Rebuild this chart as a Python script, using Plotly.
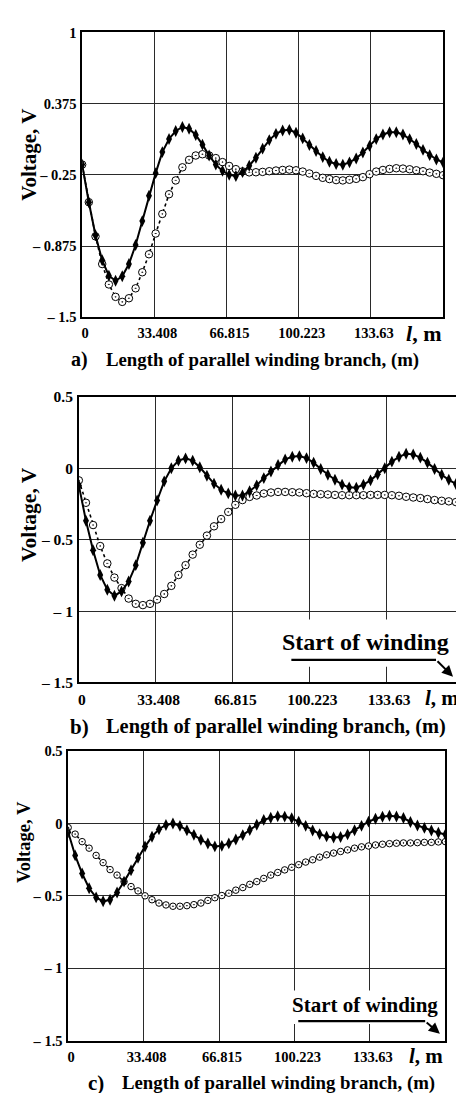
import plotly.graph_objects as go

W, H = 464, 1093
L_TOTAL = 167.04
N_PTS = 55
x_m = [round(i * L_TOTAL / (N_PTS - 1), 3) for i in range(N_PTS)]

x_tick_vals = [0, 33.408, 66.815, 100.223, 133.63]
x_tick_text = ["0", "33.408", "66.815", "100.223", "133.63"]

ya_vals = [1, 0.375, -0.25, -0.875, -1.5]
ya_text = ["1", "0.375", "\u2013 0.25", "\u2013 0.875", "\u2013 1.5"]
ybc_vals = [0.5, 0, -0.5, -1, -1.5]
ybc_text = ["0.5", "0", "\u2013 0.5", "\u2013 1", "\u2013 1.5"]

# panel a
a_solid = [-0.16, -0.49, -0.78, -1.00, -1.135, -1.18, -1.14, -1.033, -0.866, -0.656,
           -0.434, -0.235, -0.05, 0.065, 0.135, 0.17, 0.155, 0.10, 0.015, -0.08,
           -0.16, -0.215, -0.25, -0.26, -0.226, -0.17, -0.10, -0.02, 0.055, 0.11,
           0.14, 0.145, 0.12, 0.07, 0.012, -0.04, -0.094, -0.135, -0.155, -0.161,
           -0.14, -0.106, -0.054, 0.004, 0.064, 0.104, 0.124, 0.124, 0.104, 0.064,
           0.021, -0.031, -0.077, -0.115, -0.14]
a_circ = [-0.16, -0.49, -0.79, -1.033, -1.212, -1.321, -1.365, -1.333, -1.246, -1.105,
          -0.947, -0.765, -0.593, -0.42, -0.299, -0.184, -0.118, -0.08, -0.069, -0.08,
          -0.103, -0.138, -0.172, -0.200, -0.22, -0.228, -0.227, -0.224, -0.218, -0.212,
          -0.207, -0.204, -0.21, -0.221, -0.238, -0.259, -0.276, -0.287, -0.296, -0.299,
          -0.293, -0.285, -0.27, -0.244, -0.221, -0.207, -0.198, -0.192, -0.195, -0.201,
          -0.21, -0.218, -0.23, -0.241, -0.253]

# panel b
b_solid = [-0.12, -0.367, -0.574, -0.747, -0.85, -0.892, -0.862, -0.793, -0.678, -0.521,
           -0.367, -0.225, -0.091, 0.001, 0.054, 0.07, 0.054, 0.008, -0.052, -0.107,
           -0.15, -0.175, -0.19, -0.19, -0.16, -0.119, -0.068, -0.022, 0.024, 0.063,
           0.081, 0.086, 0.072, 0.04, -0.004, -0.045, -0.08, -0.114, -0.133, -0.135,
           -0.114, -0.084, -0.041, 0.001, 0.047, 0.081, 0.102, 0.098, 0.075, 0.04,
           -0.004, -0.045, -0.08, -0.11, -0.137]
b_circ = [-0.084, -0.241, -0.397, -0.544, -0.666, -0.765, -0.839, -0.912, -0.949, -0.958,
          -0.949, -0.919, -0.88, -0.823, -0.747, -0.678, -0.604, -0.535, -0.471, -0.406,
          -0.355, -0.305, -0.255, -0.222, -0.2, -0.19, -0.176, -0.169, -0.165, -0.165,
          -0.167, -0.169, -0.174, -0.179, -0.181, -0.183, -0.186, -0.188, -0.188, -0.188,
          -0.188, -0.186, -0.186, -0.186, -0.188, -0.192, -0.199, -0.204, -0.208, -0.215,
          -0.222, -0.227, -0.231, -0.236, -0.24]

# panel c
c_solid = [-0.06, -0.22, -0.345, -0.447, -0.51, -0.537, -0.526, -0.476, -0.401, -0.322,
           -0.236, -0.159, -0.091, -0.039, -0.01, 0.0, -0.016, -0.046, -0.078, -0.112,
           -0.138, -0.158, -0.154, -0.137, -0.11, -0.08, -0.045, -0.008, 0.025, 0.04,
           0.05, 0.048, 0.036, 0.013, -0.016, -0.048, -0.073, -0.089, -0.096, -0.093,
           -0.075, -0.046, -0.016, 0.013, 0.033, 0.047, 0.054, 0.049, 0.038, 0.011,
           -0.014, -0.03, -0.048, -0.064, -0.075]
c_circ = [-0.028, -0.073, -0.125, -0.17, -0.22, -0.27, -0.318, -0.356, -0.401, -0.435,
          -0.465, -0.499, -0.526, -0.549, -0.562, -0.571, -0.571, -0.567, -0.56, -0.549,
          -0.531, -0.512, -0.497, -0.481, -0.46, -0.442, -0.42, -0.401, -0.379, -0.356,
          -0.338, -0.32, -0.302, -0.284, -0.266, -0.25, -0.232, -0.216, -0.204, -0.193,
          -0.182, -0.17, -0.161, -0.155, -0.148, -0.143, -0.139, -0.136, -0.134, -0.134,
          -0.132, -0.13, -0.13, -0.127, -0.125]

caption_text = "Length of parallel winding branch, (m)"
ylabel = "Voltage, V"
note_text = "Start of winding"

SERIF = "Liberation Serif"

# pixel boxes of the three plot areas: left, right, top, bottom
panels = [
    dict(box=(73.3, 435.0, 15.7, 305.0), yr=[-1.5, 1], yv=ya_vals, yt=ya_text,
         s=a_solid, c=a_circ, fs=14.5, circ=7.5),
    dict(box=(70.0, 455.0, 386.0, 676.0), yr=[-1.5, 0.5], yv=ybc_vals, yt=ybc_text,
         s=b_solid, c=b_circ, fs=15.5, circ=7.5),
    dict(box=(59.3, 437.3, 745.7, 1040.0), yr=[-1.5, 0.5], yv=ybc_vals, yt=ybc_text,
         s=c_solid, c=c_circ, fs=14.5, circ=6.5),
]

def px(xp):
    return xp / W

def py(yp):
    return 1 - yp / H

fig = go.Figure()
layout = dict(width=W, height=H, margin=dict(l=0, r=0, t=0, b=0),
              paper_bgcolor="white", plot_bgcolor="white", showlegend=False)

for k, p in enumerate(panels):
    i = "" if k == 0 else str(k + 1)
    l, r, t, b = p["box"]
    fig.add_trace(go.Scatter(
        x=x_m, y=p["c"], xaxis="x" + i, yaxis="y" + i, mode="lines+markers",
        line=dict(color="black", width=1.6, dash="dot"),
        marker=dict(symbol="circle-dot", size=p["circ"], color="white",
                    line=dict(color="black", width=1)),
    ))
    fig.add_trace(go.Scatter(
        x=x_m, y=p["s"], xaxis="x" + i, yaxis="y" + i, mode="lines+markers",
        line=dict(color="black", width=2),
        marker=dict(symbol="diamond-tall", size=8.5, color="black"),
    ))
    tf = dict(family=SERIF, size=p["fs"], color="black", weight="bold")
    layout["xaxis" + i] = dict(
        domain=[px(l), px(r)], anchor="y" + i, range=[0, L_TOTAL],
        tickvals=x_tick_vals, ticktext=x_tick_text, tickfont=tf,
        showgrid=True, gridcolor="#2a2a2a", gridwidth=1.3,
        showline=True, linecolor="black", linewidth=1.5, mirror=True,
        zeroline=False, ticks="", ticklabelshift=3, ticklabelstandoff=2,
    )
    layout["yaxis" + i] = dict(
        domain=[py(b), py(t)], anchor="x" + i, range=p["yr"],
        tickvals=p["yv"], ticktext=p["yt"], tickfont=tf,
        showgrid=True, gridcolor="#2a2a2a", gridwidth=1.3,
        showline=True, linecolor="black", linewidth=1.5, mirror=True,
        zeroline=False, ticks="", ticklabelstandoff=1,
    )

fig.update_layout(**layout)

ann = []
# y-axis titles
for (xc, yc, fs) in [(20, 140, 21), (20, 505, 21.5), (15, 838, 18.5)]:
    ann.append(dict(x=px(xc), y=py(yc), xref="paper", yref="paper", text=ylabel,
                    textangle=-90, showarrow=False, xanchor="center", yanchor="middle",
                    font=dict(family=SERIF, size=fs, color="black", weight="bold")))
# "l, m" labels
for (xc, yc, fs) in [(415, 322, 22), (434, 692, 21), (418, 1055, 21)]:
    ann.append(dict(x=px(xc), y=py(yc), xref="paper", yref="paper",
                    text="<i>l</i>, m", showarrow=False, xanchor="center", yanchor="middle",
                    font=dict(family=SERIF, size=fs, color="black", weight="bold")))
# captions
for (lab, xl, xt, yc, fl, ft) in [("a)", 71, 254, 348, 20, 18.8),
                                  ("b)", 71, 268, 721, 21, 20.4),
                                  ("c)", 87.5, 270.5, 1083, 21, 18.8)]:
    ann.append(dict(x=px(xl), y=py(yc), xref="paper", yref="paper", text=lab,
                    showarrow=False, xanchor="center", yanchor="middle",
                    font=dict(family=SERIF, size=fl, color="black", weight="bold")))
    ann.append(dict(x=px(xt), y=py(yc), xref="paper", yref="paper", text=caption_text,
                    showarrow=False, xanchor="center", yanchor="middle",
                    font=dict(family=SERIF, size=ft, color="black", weight="bold")))

shapes = []
# "Start of winding" notes in panels b and c (data coords of those axes)
notes = [
    dict(ax="2", box=(87.0, 164.5, -1.059, -1.39), tx=124.8, ty=-1.217, fs=24,
         line=(92.4, 155.3, -1.341), tip=(162.7, -1.459)),
    dict(ax="3", box=(98.0, 166.6, -1.153, -1.384), tx=131.5, ty=-1.255, fs=21,
         line=(101.9, 158.1, -1.364), tip=(164.6, -1.452)),
]
for nt in notes:
    xr, yr = "x" + nt["ax"], "y" + nt["ax"]
    x0, x1, y0, y1 = nt["box"]
    shapes.append(dict(type="rect", xref=xr, yref=yr, x0=x0, x1=x1, y0=y0, y1=y1,
                       fillcolor="white", line=dict(width=0), layer="above"))
    lx0, lx1, ly = nt["line"]
    shapes.append(dict(type="line", xref=xr, yref=yr, x0=lx0, x1=lx1, y0=ly, y1=ly,
                       line=dict(color="black", width=2.2), layer="above"))
    ann.append(dict(x=nt["tx"], y=nt["ty"], xref=xr, yref=yr, text=note_text,
                    showarrow=False, xanchor="center", yanchor="middle",
                    font=dict(family=SERIF, size=nt["fs"], color="black", weight="bold")))
    ann.append(dict(x=nt["tip"][0], y=nt["tip"][1], xref=xr, yref=yr, ax=lx1, ay=ly,
                    axref=xr, ayref=yr, text="", showarrow=True, arrowhead=2,
                    arrowsize=1.1, arrowwidth=2, arrowcolor="black"))

fig.update_layout(annotations=ann, shapes=shapes)
fig.write_html("out.html")
